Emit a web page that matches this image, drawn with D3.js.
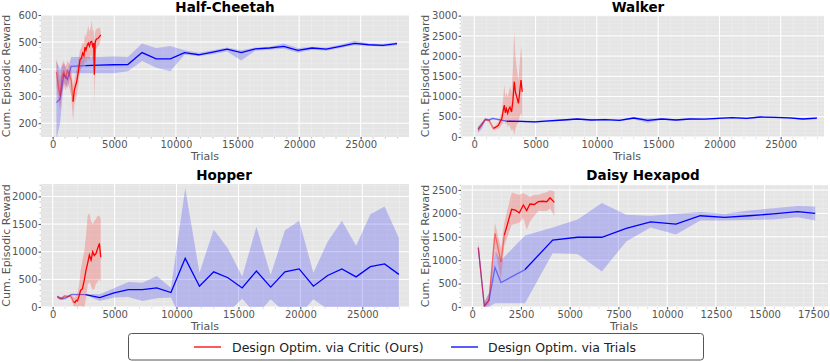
<!DOCTYPE html>
<html>
<head>
<meta charset="utf-8">
<script src="https://cdn.jsdelivr.net/npm/d3@7"></script>
<style>
body { margin: 0; background: white; }
text { font-family: "DejaVu Sans", sans-serif; }
.tick text { fill: #555; font-size: 10px; }
.tick line { stroke: #555; }
</style>
</head>
<body>
<script>

// ---- data ----
const titles = ["Half-Cheetah", "Walker", "Hopper", "Daisy Hexapod"];
const seriesNames = ["Design Optim. via Critic (Ours)", "Design Optim. via Trials"];

// Half-Cheetah
const hcBlueX = [300, 600, 900, 1200, 1500, 2650, 3800, 4950, 6100, 7250, 8400, 9550, 10700, 11850, 13000, 14150, 15300, 16450, 17600, 18750, 19900, 21050, 22200, 23350, 24500, 25650, 26800, 27950];
const hcBlueY = [276, 290, 380, 362, 410, 413, 415, 416, 417, 461, 438, 438, 461, 453, 463, 474, 461, 475, 478, 484, 469, 478, 474, 484, 495, 490, 488, 494];
const hcBlueHi = [430, 400, 420, 395, 445, 445, 445, 447, 445, 495, 478, 485, 470, 460, 470, 480, 470, 480, 483, 495, 478, 483, 480, 490, 505, 495, 493, 500];
const hcBlueLo = [140, 200, 350, 330, 385, 385, 385, 385, 392, 430, 405, 392, 453, 448, 455, 465, 432, 468, 472, 475, 460, 472, 468, 478, 488, 486, 483, 488];
const hcRedX = [300, 450, 600, 750, 900, 1050, 1200, 1350, 1500, 1650, 1760, 1950, 2080, 2215, 2330, 2430, 2530, 2620, 2700, 2800, 2890, 2980, 3070, 3160, 3250, 3330, 3380, 3450, 3510, 3600, 3700, 3800, 3900];
const hcRedY = [390, 340, 300, 370, 390, 365, 395, 380, 360, 280, 323, 354, 391, 434, 440, 459, 450, 481, 470, 488, 496, 485, 500, 502, 485, 496, 379, 500, 508, 512, 515, 520, 527];
const hcRedHi = [440, 400, 360, 420, 430, 410, 430, 420, 400, 340, 360, 400, 430, 470, 480, 500, 490, 530, 520, 540, 560, 540, 550, 580, 540, 545, 500, 540, 545, 550, 550, 555, 540];
const hcRedLo = [340, 290, 250, 310, 340, 320, 350, 330, 300, 210, 270, 300, 340, 390, 400, 420, 410, 440, 420, 440, 440, 430, 450, 450, 430, 440, 260, 450, 470, 480, 485, 490, 510];

// Walker
const wkBlueX = [300, 600, 900, 1200, 1500, 2000, 2650, 3800, 4950, 6100, 7250, 8400, 9550, 10700, 11850, 13000, 14150, 15300, 16450, 17600, 18750, 19900, 21050, 22200, 23350, 24500, 25650, 26800, 27950];
const wkBlueY = [190, 300, 440, 420, 460, 430, 390, 385, 375, 400, 420, 445, 420, 430, 410, 470, 410, 445, 420, 445, 440, 460, 480, 460, 495, 485, 475, 445, 465];
const wkBlueHi = [260, 360, 470, 450, 480, 450, 410, 405, 395, 420, 440, 465, 440, 450, 430, 495, 460, 465, 440, 465, 460, 480, 500, 480, 515, 505, 495, 465, 500];
const wkBlueLo = [100, 200, 400, 390, 440, 410, 370, 365, 355, 380, 400, 425, 400, 410, 390, 440, 350, 425, 400, 425, 420, 440, 460, 440, 475, 465, 455, 425, 440];
const wkRedX = [300, 600, 900, 1200, 1550, 1690, 1830, 1970, 2100, 2240, 2370, 2450, 2530, 2620, 2720, 2810, 2910, 3040, 3150, 3260, 3360, 3460, 3600, 3700, 3810, 3910];
const wkRedY = [180, 300, 430, 410, 215, 230, 260, 290, 370, 450, 668, 790, 600, 700, 585, 680, 740, 620, 900, 1370, 1100, 1000, 830, 1100, 1410, 1120];
const wkRedHi = [250, 350, 460, 440, 260, 280, 330, 380, 500, 600, 1000, 1300, 1000, 1100, 1000, 1100, 1250, 1100, 1700, 2600, 2000, 1700, 1400, 1800, 2250, 1900];
const wkRedLo = [110, 250, 400, 380, 170, 180, 190, 200, 240, 300, 350, 450, 300, 350, 250, 300, 250, 150, 200, 50, 200, 300, 350, 500, 600, 450];

// Hopper
const hpBlueX = [370, 730, 1050, 1350, 1530, 2650, 3800, 4950, 6100, 7250, 8400, 9550, 10700, 11850, 13000, 14150, 15300, 16450, 17600, 18750, 19900, 21050, 22200, 23350, 24500, 25650, 26800, 27950];
const hpBlueY = [190, 150, 165, 200, 230, 225, 170, 255, 316, 316, 345, 262, 880, 376, 636, 530, 345, 650, 360, 636, 690, 376, 570, 690, 545, 730, 780, 590];
const hpBlueHi = [210, 175, 190, 215, 235, 235, 230, 340, 450, 440, 560, 350, 2150, 620, 1400, 1060, 550, 1450, 580, 1390, 1560, 620, 1180, 1560, 1110, 1680, 1820, 1250];
const hpBlueLo = [160, 125, 140, 185, 225, 215, 110, 170, 180, 110, 160, 170, -400, -200, -150, -100, 150, -150, 140, -100, -150, 140, -40, -180, -20, -200, -250, -70];
const hpRedX = [370, 500, 650, 800, 950, 1100, 1250, 1400, 1550, 1660, 1800, 1900, 2000, 2150, 2250, 2400, 2550, 2690, 2820, 2960, 3100, 3230, 3360, 3500, 3630, 3770, 3880];
const hpRedY = [190, 160, 150, 170, 200, 195, 190, 205, 160, 100, 80, 120, 110, 213, 300, 330, 485, 667, 790, 940, 850, 1000, 930, 970, 1060, 1150, 900];
const hpRedHi = [210, 185, 175, 195, 215, 210, 210, 230, 220, 190, 170, 230, 250, 420, 650, 850, 1000, 1300, 1650, 1700, 1550, 1500, 1550, 1600, 1650, 1650, 1600];
const hpRedLo = [170, 140, 130, 150, 185, 180, 170, 180, 100, 30, 0, 20, 0, 20, 20, 10, 0, 150, 400, 450, 380, 300, 330, 420, 460, 500, 450];

// Daisy Hexapod
const dhBlueX = [308, 616, 857, 1165, 1473, 2705, 4125, 5400, 6650, 7900, 9150, 10450, 11700, 12950, 14200, 15450, 16700, 17600];
const dhBlueY = [1270, 21, 143, 844, 522, 800, 1430, 1490, 1490, 1680, 1820, 1770, 1950, 1915, 1950, 1990, 2040, 2000];
const dhBlueHi = [1350, 120, 300, 1200, 1000, 1530, 1700, 1870, 2220, 1970, 1950, 1990, 2030, 1990, 2060, 2110, 2160, 2150];
const dhBlueLo = [1150, 0, 0, 80, 80, 80, 1150, 1130, 760, 1400, 1700, 1550, 1850, 1850, 1860, 1870, 1920, 1850];
const dhRedX = [308, 616, 857, 1165, 1473, 1643, 2020, 2210, 2413, 2620, 2790, 2960, 3180, 3390, 3610, 3820, 3990, 4210];
const dhRedY = [1270, 21, 143, 1572, 964, 1536, 2087, 2070, 2015, 2180, 2060, 2200, 2190, 2250, 2260, 2250, 2335, 2235];
const dhRedHi = [1400, 80, 300, 1800, 1250, 1800, 2450, 2420, 2400, 2430, 2400, 2350, 2400, 2400, 2430, 2450, 2500, 2470];
const dhRedLo = [1150, 0, 50, 1250, 600, 1300, 1750, 1780, 1800, 1900, 1650, 1820, 1950, 2050, 2050, 2050, 2100, 1950];

// axis limits / ticks
const xLims = [[-950, 28920], [-1085, 28530], [-945, 28770], [-580, 18255]];
const yLims = [[149, 600], [0, 3017], [0, 2225], [0, 2607]];
const xTickVals = [d3.range(0, 25001, 5000), d3.range(0, 25001, 5000), d3.range(0, 25001, 5000), d3.range(0, 17501, 2500)];
const yTickVals = [d3.range(200, 601, 100), d3.range(0, 3001, 500), d3.range(0, 2001, 500), d3.range(0, 2501, 500)];
const xMinorStep = [1000, 1000, 1000, 500];
const yMinorStep = [20, 100, 100, 100];
// the start of each run is drawn lighter
const redFadeX = [1650, 1550, 1660, 1643];
const blueFadeX = [2650, 2650, 2650, 2705];

// ---- layout ----
const boxes = [
  {l: 41, r: 409, t: 15, b: 137, titleX: 225, titleY: 12, xlabX: 205, xlabY: 160, ylabX: 9.5},
  {l: 461, r: 824, t: 15, b: 137, titleX: 638, titleY: 12, xlabX: 627, xlabY: 160, ylabX: 429},
  {l: 41, r: 409, t: 184, b: 307, titleX: 224, titleY: 180, xlabX: 205, xlabY: 330, ylabX: 9.5},
  {l: 461, r: 828, t: 185, b: 307, titleX: 643, titleY: 180, xlabX: 624, xlabY: 330, ylabX: 429}
];

const panels = [
  {red: [hcRedX, hcRedY, hcRedHi, hcRedLo], blue: [hcBlueX, hcBlueY, hcBlueHi, hcBlueLo]},
  {red: [wkRedX, wkRedY, wkRedHi, wkRedLo], blue: [wkBlueX, wkBlueY, wkBlueHi, wkBlueLo]},
  {red: [hpRedX, hpRedY, hpRedHi, hpRedLo], blue: [hpBlueX, hpBlueY, hpBlueHi, hpBlueLo]},
  {red: [dhRedX, dhRedY, dhRedHi, dhRedLo], blue: [dhBlueX, dhBlueY, dhBlueHi, dhBlueLo]}
];

const svg = d3.select("body").append("svg")
  .attr("width", 830)
  .attr("height", 362);

const toRows = s => s[0].map((x, i) => ({x: x, y: s[1][i], hi: s[2][i], lo: s[3][i]}));

panels.forEach((p, k) => {
  const b = boxes[k];
  const x = d3.scaleLinear().domain(xLims[k]).range([b.l, b.r]);
  const y = d3.scaleLinear().domain(yLims[k]).range([b.b, b.t]);
  const g = svg.append("g");

  g.append("rect")
    .attr("x", b.l).attr("y", b.t)
    .attr("width", b.r - b.l).attr("height", b.b - b.t)
    .attr("fill", "#e5e5e5");

  const clipId = "clip" + k;
  g.append("clipPath").attr("id", clipId)
    .append("rect")
    .attr("x", b.l).attr("y", b.t)
    .attr("width", b.r - b.l).attr("height", b.b - b.t);

  // minor grid
  const xMinor = d3.range(Math.ceil(xLims[k][0] / xMinorStep[k]) * xMinorStep[k], xLims[k][1], xMinorStep[k]);
  const yMinor = d3.range(Math.ceil(yLims[k][0] / yMinorStep[k]) * yMinorStep[k], yLims[k][1], yMinorStep[k]);
  g.selectAll(".mx").data(xMinor).enter().append("line")
    .attr("x1", d => x(d)).attr("x2", d => x(d))
    .attr("y1", b.t).attr("y2", b.b)
    .attr("stroke", "white").attr("stroke-opacity", 0.45).attr("stroke-width", 0.5);
  g.selectAll(".my").data(yMinor).enter().append("line")
    .attr("y1", d => y(d)).attr("y2", d => y(d))
    .attr("x1", b.l).attr("x2", b.r)
    .attr("stroke", "white").attr("stroke-opacity", 0.45).attr("stroke-width", 0.5);
  // minor tick marks
  g.selectAll(".mtx").data(xMinor).enter().append("line")
    .attr("x1", d => x(d)).attr("x2", d => x(d))
    .attr("y1", b.b).attr("y2", b.b + 1.5)
    .attr("stroke", "#999").attr("stroke-width", 0.6);
  g.selectAll(".mty").data(yMinor).enter().append("line")
    .attr("y1", d => y(d)).attr("y2", d => y(d))
    .attr("x1", b.l).attr("x2", b.l - 1.5)
    .attr("stroke", "#999").attr("stroke-width", 0.6);

  // major grid
  g.selectAll(".gx").data(xTickVals[k]).enter().append("line")
    .attr("x1", d => x(d)).attr("x2", d => x(d))
    .attr("y1", b.t).attr("y2", b.b)
    .attr("stroke", "white").attr("stroke-width", 1);
  g.selectAll(".gy").data(yTickVals[k]).enter().append("line")
    .attr("y1", d => y(d)).attr("y2", d => y(d))
    .attr("x1", b.l).attr("x2", b.r)
    .attr("stroke", "white").attr("stroke-width", 1);

  const plot = g.append("g").attr("clip-path", `url(#${clipId})`);

  const area = d3.area().x(d => x(d.x)).y0(d => y(d.lo)).y1(d => y(d.hi));
  const line = d3.line().x(d => x(d.x)).y(d => y(d.y));

  const drawSeries = (s, color, fadeX) => {
    const rows = toRows(s);
    plot.append("path").datum(rows)
      .attr("d", area)
      .attr("fill", color).attr("fill-opacity", 0.2).attr("stroke", "none");
    plot.append("path").datum(rows.filter(d => d.x <= fadeX))
      .attr("d", line)
      .attr("fill", "none").attr("stroke", color).attr("stroke-opacity", 0.45).attr("stroke-width", 1.3);
    plot.append("path").datum(rows.filter(d => d.x >= fadeX))
      .attr("d", line)
      .attr("fill", "none").attr("stroke", color).attr("stroke-width", 1.3);
  };
  drawSeries(p.blue, "#0000ff", blueFadeX[k]);
  drawSeries(p.red, "#ff0000", redFadeX[k]);

  // axes
  const xAxis = d3.axisBottom(x).tickValues(xTickVals[k]).tickSize(2.5).tickPadding(1.5).tickFormat(d3.format("d"));
  const yAxis = d3.axisLeft(y).tickValues(yTickVals[k]).tickSize(2.5).tickPadding(1).tickFormat(d3.format("d"));
  g.append("g").attr("transform", `translate(0,${b.b})`).call(xAxis)
    .call(a => a.select(".domain").remove());
  g.append("g").attr("transform", `translate(${b.l},0)`).call(yAxis)
    .call(a => a.select(".domain").remove());

  g.append("text")
    .attr("x", b.titleX).attr("y", b.titleY)
    .attr("text-anchor", "middle")
    .attr("font-size", 13.5).attr("font-weight", "bold")
    .attr("fill", "black")
    .text(titles[k]);

  g.append("text")
    .attr("x", b.xlabX).attr("y", b.xlabY)
    .attr("text-anchor", "middle")
    .attr("font-size", 11).attr("fill", "#555")
    .text("Trials");

  g.append("text")
    .attr("transform", `translate(${b.ylabX},${(b.t + b.b) / 2}) rotate(-90)`)
    .attr("text-anchor", "middle")
    .attr("font-size", 11).attr("fill", "#555")
    .text("Cum. Episodic Reward");
});

// legend
const legend = svg.append("g");
legend.append("rect")
  .attr("x", 128.5).attr("y", 333.5)
  .attr("width", 575).attr("height", 26.5)
  .attr("rx", 3)
  .attr("fill", "white").attr("stroke", "#555").attr("stroke-width", 1);
const legendItems = [
  {lx: 194, tx: 232, color: "#ff0000"},
  {lx: 451, tx: 488, color: "#0000ff"}
];
legendItems.forEach((it, i) => {
  legend.append("line")
    .attr("x1", it.lx).attr("x2", it.lx + 27)
    .attr("y1", 347).attr("y2", 347)
    .attr("stroke", it.color).attr("stroke-width", 1.3);
  legend.append("text")
    .attr("x", it.tx).attr("y", 351.5)
    .attr("font-size", 12.5).attr("fill", "#222")
    .text(seriesNames[i]);
});

</script>
</body>
</html>
